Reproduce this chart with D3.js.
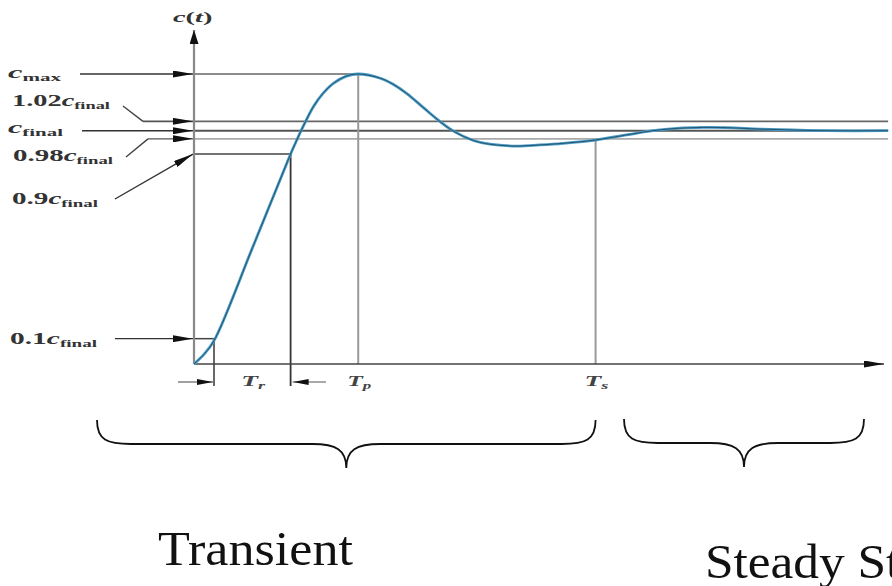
<!DOCTYPE html>
<html lang="en">
<head>
<meta charset="UTF-8">
<script src="https://d3js.org/d3.v7.min.js"></script>
<title>Step response</title>
<style>
  body { margin: 0; background: #fff; }
  svg { display: block; }
</style>
</head>
<body>
<div class="graph"></div>
<script>
    // step response (time in arbitrary units, c / c_final)
    var timeVals = [0, 0.14, 0.29, 0.85, 1.40, 1.49, 1.58, 1.73, 1.87, 2.02, 2.21, 2.38, 2.70, 2.88,
        3.08, 3.32, 3.54, 3.76, 4.05, 4.29, 4.68, 5.01, 5.35, 5.82, 6.27, 6.65, 7.00, 7.38,
        7.72, 8.20, 8.68, 9.17, 10.06];
    var respVals = [0, 0.04, 0.10, 0.50, 0.90, 0.96, 1.017, 1.103, 1.16, 1.203, 1.234, 1.243, 1.225, 1.20,
        1.16, 1.10, 1.045, 0.998, 0.958, 0.942, 0.934, 0.939, 0.946, 0.96, 0.982, 1.0, 1.01, 1.014,
        1.013, 1.007, 1.003, 1.0, 1.0];

    // marked levels (band lines drawn where the picture puts them)
    var cMax = 1.243, cFinal = 1.0, bandHigh = 1.04, bandLow = 0.965, c90 = 0.9, c10 = 0.1;
    // marked times
    var tRise0 = 0.29, tRise1 = 1.40, tPeak = 2.38, tSettle = 5.82;
    var timeLabels = [{ t: (tRise0 + tRise1) / 2, sub: "r" }, { t: tPeak, sub: "p" }, { t: tSettle, sub: "s" }];

    var width = 892, height = 586;

    var x = d3.scaleLinear().domain([0, 10]).range([194, 884]);
    var y = d3.scaleLinear().domain([0, 1]).range([364, 130.7]);
    var xEnd = x(timeVals[timeVals.length - 1]);

    var svg = d3.select(".graph").append("svg")
        .attr("width", width)
        .attr("height", height);

    var defs = svg.append("defs");
    function marker(id, len, wid, color) {
        defs.append("marker")
            .attr("id", id)
            .attr("viewBox", "0 0 " + len + " " + wid)
            .attr("refX", len).attr("refY", wid / 2)
            .attr("markerWidth", len).attr("markerHeight", wid)
            .attr("markerUnits", "userSpaceOnUse")
            .attr("orient", "auto")
            .append("path")
            .attr("d", "M0,0L" + len + "," + wid / 2 + "L0," + wid + "Z")
            .attr("fill", color);
    }
    marker("arr", 20, 7, "#111");
    marker("arrSmall", 16, 6, "#111");
    marker("arrAxis", 14, 9, "#111");

    function seg(x1, y1, x2, y2, color, w, mk) {
        var l = svg.append("line")
            .attr("x1", x1).attr("y1", y1).attr("x2", x2).attr("y2", y2)
            .attr("stroke", color).attr("stroke-width", w);
        if (mk) l.attr("marker-end", "url(#" + mk + ")");
        return l;
    }

    // band and level lines across the plot
    seg(123, 106, 143, y(bandHigh), "#444", 1.4);
    seg(143, y(bandHigh), x(0) - 1, y(bandHigh), "#555", 1.6, "arr");
    seg(x(0), y(bandHigh), xEnd, y(bandHigh), "#666", 1.8);

    seg(82, y(cFinal), x(0) - 1, y(cFinal), "#333", 1.6, "arr");
    seg(x(0), y(cFinal), xEnd, y(cFinal), "#555", 2);

    seg(126, 157, 148, y(bandLow), "#444", 1.4);
    seg(148, y(bandLow), x(0) - 1, y(bandLow), "#555", 1.4, "arr");
    seg(x(0), y(bandLow), xEnd, y(bandLow), "#aaa", 1.8);

    // cmax
    seg(80, y(cMax), x(0) - 1, y(cMax), "#333", 1.4, "arr");
    seg(x(0), y(cMax), x(tPeak), y(cMax), "#666", 1.5);

    // 0.9 and 0.1 levels
    seg(115, 199, x(0) - 1, y(c90), "#333", 1.4, "arr");
    seg(x(0), y(c90), x(tRise1), y(c90), "#444", 1.5);
    seg(115, y(c10) - 2, x(0) - 1, y(c10) - 2, "#333", 1.4, "arr");
    seg(x(0), y(c10) - 2, x(tRise0), y(c10) - 2, "#444", 1.5);

    // vertical markers
    seg(x(tRise0), y(c10) - 2, x(tRise0), 386, "#444", 1.6);
    seg(x(tRise1), y(c90), x(tRise1), 386, "#333", 1.8);
    seg(x(tPeak), y(cMax), x(tPeak), y(0), "#999", 2);
    seg(x(tSettle), y(bandLow), x(tSettle), y(0), "#999", 2);

    // rise time arrows under the axis
    seg(178, 382, x(tRise0) - 1, 382, "#444", 1.2, "arrSmall");
    seg(326, 382, x(tRise1) + 2, 382, "#555", 1.2, "arrSmall");

    // axes
    seg(x(0), y(0), x(0), 30, "#888", 2.2, "arrAxis");
    seg(x(0), y(0), 884, y(0), "#444", 1.6, "arr");

    // response curve
    var line = d3.line()
        .x(function (d, i) { return x(timeVals[i]); })
        .y(function (d) { return y(d); })
        .curve(d3.curveCatmullRom.alpha(0.5));

    svg.append("path").datum(respVals)
        .attr("d", line)
        .attr("fill", "none")
        .attr("stroke", "#4a9cc6")
        .attr("stroke-width", 2.8);
    svg.append("path").datum(respVals)
        .attr("d", line)
        .attr("fill", "none")
        .attr("stroke", "#24536e")
        .attr("stroke-width", 1);

    // labels: stretched horizontally like the source figure
    function fitText(t, x0, base, w, anchorMid) {
        var bw = t.node().getBBox().width;
        var s = w / bw;
        var tx = anchorMid ? x0 - w / 2 : x0;
        t.attr("transform", "translate(" + tx + "," + base + ") scale(" + s + ",1)");
    }

    function levelLabel(num, sub, x0, base, w) {
        var t = svg.append("text")
            .attr("font-family", "Liberation Serif, serif")
            .attr("font-size", 17)
            .attr("font-weight", "bold")
            .attr("fill", "#333");
        if (num) t.append("tspan").text(num);
        t.append("tspan").attr("font-style", "italic").text("c");
        t.append("tspan").attr("font-size", 11).attr("dy", 3).text(sub);
        fitText(t, x0, base, w);
    }

    levelLabel("", "max", 8, 78, 54);
    levelLabel("1.02", "final", 12, 106, 98);
    levelLabel("", "final", 8, 133, 55);
    levelLabel("0.98", "final", 13, 161, 100);
    levelLabel("0.9", "final", 12, 204, 86);
    levelLabel("0.1", "final", 10, 344, 87);

    var ct = svg.append("text")
        .attr("font-family", "Liberation Serif, serif")
        .attr("font-size", 14)
        .attr("font-weight", "bold")
        .attr("fill", "#333");
    ct.append("tspan").attr("font-style", "italic").text("c");
    ct.append("tspan").text("(");
    ct.append("tspan").attr("font-style", "italic").text("t");
    ct.append("tspan").text(")");
    fitText(ct, 193, 22, 40, true);

    timeLabels.forEach(function (d) {
        var t = svg.append("text")
            .attr("font-family", "Liberation Serif, serif")
            .attr("font-size", 15)
            .attr("font-weight", "bold")
            .attr("font-style", "italic")
            .attr("fill", "#444");
        t.append("tspan").text("T");
        t.append("tspan").attr("font-size", 10).attr("dy", 3).text(d.sub);
        fitText(t, x(d.t) + 1, 386, 24, true);
    });

    // braces
    function brace(x0, x1, top, flat, tip) {
        var m = (x0 + x1) / 2, r = 34, rm = 34;
        var p = "M" + x0 + "," + top +
            "C" + x0 + "," + (flat - 4) + " " + (x0 + 10) + "," + flat + " " + (x0 + r) + "," + flat +
            "L" + (m - rm) + "," + flat +
            "C" + (m - 10) + "," + flat + " " + m + "," + (flat + 6) + " " + m + "," + tip +
            "C" + m + "," + (flat + 6) + " " + (m + 10) + "," + flat + " " + (m + rm) + "," + flat +
            "L" + (x1 - r) + "," + flat +
            "C" + (x1 - 10) + "," + flat + " " + x1 + "," + (flat - 4) + " " + x1 + "," + top;
        svg.append("path").attr("d", p)
            .attr("fill", "none").attr("stroke", "#111").attr("stroke-width", 1.8);
    }
    brace(97, x(tSettle), 420, 444, 468);
    brace(624, 864, 419, 443, 467);

    svg.append("text")
        .attr("x", 158).attr("y", 565)
        .attr("font-family", "Liberation Serif, serif")
        .attr("font-size", 48)
        .attr("textLength", 195)
        .attr("lengthAdjust", "spacingAndGlyphs")
        .attr("fill", "#111")
        .text("Transient");

    // the source picture crops this caption at its right edge
    svg.append("text")
        .attr("x", 705).attr("y", 578)
        .attr("font-family", "Liberation Serif, serif")
        .attr("font-size", 48)
        .attr("fill", "#111")
        .attr("transform", "translate(705,0) scale(1.07,1) translate(-705,0)")
        .text("Steady State");
</script>
</body>
</html>
